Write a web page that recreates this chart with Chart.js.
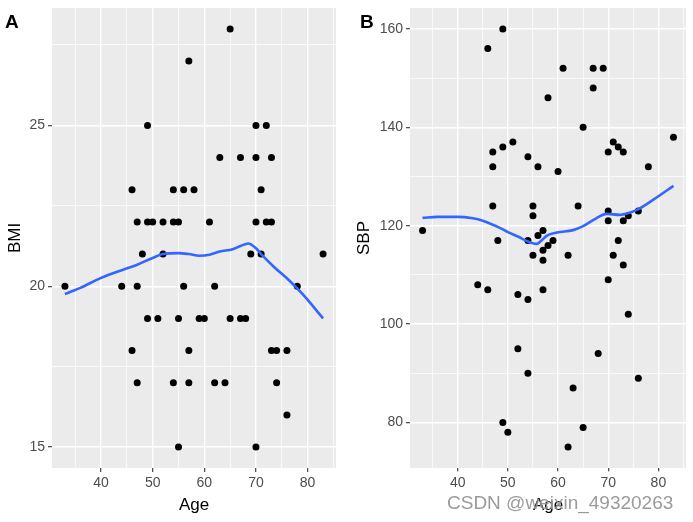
<!DOCTYPE html>
<html>
<head>
<meta charset="utf-8">
<script src="https://cdn.jsdelivr.net/npm/chart.js@4/dist/chart.umd.min.js"></script>
<style>
  html, body { margin: 0; padding: 0; background: #ffffff; }
  #wrap { position: relative; width: 693px; height: 522px; overflow: hidden; }
  canvas { position: absolute; top: 0; }
  .lab { position: absolute; font-family: 'Liberation Sans', Arial, sans-serif; font-weight: bold; font-size: 19px; color: #000; line-height: 1; }
  #wm { position: absolute; left: 447px; top: 492px; font-family: 'Liberation Sans', Arial, sans-serif; font-size: 19px; color: rgba(120,120,120,0.75); white-space: nowrap; text-shadow: 0 0 1px rgba(255,255,255,0.8); }
</style>
</head>
<body>
<div id="wrap">
  <canvas id="cA" width="346" height="522" style="left:0px;width:346px;height:522px"></canvas>
  <canvas id="cB" width="347" height="522" style="left:346px;width:347px;height:522px"></canvas>
  <div class="lab" style="left:5px;top:12px">A</div>
  <div class="lab" style="left:360px;top:12px">B</div>
  <div id="wm">CSDN @weixin_49320263</div>
</div>
<script>
// ---------- Data ----------
// Panel A: Age vs BMI
const ageA = [65, 57, 49, 70, 72, 63, 67, 70, 73, 46, 54, 56, 58, 71,
  47, 49, 50, 52, 54, 55, 61, 70, 72, 73,
  48, 52, 69, 71, 83,
  33, 44, 47, 56, 62, 78,
  49, 51, 55, 59, 60, 65, 67, 68,
  46, 57, 73, 74, 76,
  47, 54, 57, 62, 64, 74,
  76, 55, 70];
const bmi = [28, 27, 25, 25, 25, 24, 24, 24, 24, 23, 23, 23, 23, 23,
  22, 22, 22, 22, 22, 22, 22, 22, 22, 22,
  21, 21, 21, 21, 21,
  20, 20, 20, 20, 20, 20,
  19, 19, 19, 19, 19, 19, 19, 19,
  18, 18, 18, 18, 18,
  17, 17, 17, 17, 17, 17,
  16, 15, 15];
// LOESS smooth, panel A
const smoothAgeA = [33, 36, 40, 44, 47, 50, 52, 55, 57, 59, 61, 63, 65.5, 67, 68.5, 70, 71, 73.5, 76.5, 79, 83];
const smoothBMI  = [19.76, 19.95, 20.26, 20.5, 20.67, 20.88, 21.0, 21.03, 21.0, 20.95, 20.98, 21.08, 21.15, 21.25, 21.33, 21.18, 21.0, 20.6, 20.17, 19.76, 19.0];

// Panel B: Age vs SBP
const ageB = [49, 46, 61, 67, 69, 67, 58, 65, 83, 51, 71, 49, 72, 47, 70, 73, 54, 47, 56, 78,
  60, 47, 55, 64, 70, 76, 55, 74, 33, 57, 70, 73, 48, 54, 59, 72, 56, 58, 57, 55,
  62, 71, 57, 73, 70, 44, 46, 57, 52, 54, 74, 52, 68, 54, 76, 63, 49, 50, 65, 62];
const sbp = [160, 156, 152, 152, 152, 148, 146, 140, 138, 137, 137, 136, 136, 135, 135, 135, 134, 132, 132, 132,
  131, 124, 124, 124, 123, 123, 122, 122, 119, 119, 121, 121, 117, 117, 117, 117, 118, 116, 115, 114,
  114, 114, 113, 112, 109, 108, 107, 107, 106, 105, 102, 95, 94, 90, 89, 87, 80, 78, 79, 75];
// LOESS smooth, panel B
const smoothAgeB = [33, 36, 40, 43, 45, 48.5, 50, 52, 54, 55.7, 56.7, 57.8, 59.8, 63, 65, 67.6, 69.7, 72.3, 74.4, 75.7, 79, 83];
const smoothSBP  = [121.6, 121.8, 121.8, 121.5, 121.0, 119.5, 118.7, 117.8, 116.8, 116.3, 117.0, 118.0, 118.6, 119.1, 119.9, 121.5, 122.4, 122.2, 122.7, 123.2, 125.3, 128.1];

// Tick labels
const ageTicks = [40, 50, 60, 70, 80];
const bmiTicks = [15, 20, 25];
const sbpTicks = [80, 100, 120, 140, 160];

// ---------- Helpers ----------
const FONT = "'Liberation Sans', Arial, sans-serif";
function pad5(arr) {
  const mn = Math.min(...arr), mx = Math.max(...arr), r = mx - mn;
  return [mn - 0.05 * r, mx + 0.05 * r];
}
function withMinor(major) {
  const step = major[1] - major[0];
  const out = [];
  out.push(major[0] - step / 2);
  major.forEach(v => { out.push(v); out.push(v + step / 2); });
  return out;
}
const bgPlugin = {
  id: 'panelBg',
  beforeDraw(chart) {
    const { ctx, chartArea: a } = chart;
    ctx.save();
    ctx.fillStyle = '#EBEBEB';
    ctx.fillRect(a.left, a.top, a.right - a.left, a.bottom - a.top);
    ctx.restore();
  }
};

function makeChart(canvasId, xs, ys, sx, sy, yMajor, yTitle, yWidth, padRight, yTitlePad) {
  const [xmin, xmax] = pad5(xs);
  const [ymin, ymax] = pad5(ys);
  const xAll = withMinor(ageTicks);
  const yAll = withMinor(yMajor);
  const isMajorX = v => ageTicks.includes(v);
  const isMajorY = v => yMajor.includes(v);
  return new Chart(document.getElementById(canvasId), {
    type: 'scatter',
    data: {
      datasets: [
        {
          type: 'line',
          data: sx.map((x, i) => ({ x: x, y: sy[i] })),
          borderColor: '#3366FF',
          borderWidth: 2.6,
          pointRadius: 0,
          tension: 0.4,
          cubicInterpolationMode: 'monotone',
          fill: false,
          order: 0
        },
        {
          data: xs.map((x, i) => ({ x: x, y: ys[i] })),
          backgroundColor: '#000000',
          borderColor: '#000000',
          pointRadius: 3.5,
          pointBorderWidth: 0,
          order: 1
        }
      ]
    },
    options: {
      responsive: false,
      animation: false,
      events: [],
      layout: { padding: { left: 0, top: 8, right: padRight, bottom: 0 } },
      plugins: { legend: { display: false }, tooltip: { enabled: false } },
      scales: {
        x: {
          type: 'linear',
          min: xmin, max: xmax,
          afterBuildTicks: s => { s.ticks = xAll.map(v => ({ value: v })); },
          afterFit: s => { s.height = 54; s.paddingLeft = 0; s.paddingRight = 0; },
          border: { display: false },
          grid: {
            color: '#FFFFFF',
            lineWidth: c => isMajorX(c.tick.value) ? 1.4 : 0.7,
            tickColor: c => isMajorX(c.tick.value) ? '#333333' : 'rgba(0,0,0,0)',
            tickWidth: 1.1,
            tickLength: 4
          },
          ticks: {
            autoSkip: false,
            maxRotation: 0,
            padding: 3,
            color: '#4D4D4D',
            font: { family: FONT, size: 14 },
            callback: v => isMajorX(v) ? String(v) : ''
          },
          title: {
            display: true, text: 'Age', color: '#000000',
            font: { family: FONT, size: 17 },
            padding: { top: 0, bottom: 6 }
          }
        },
        y: {
          type: 'linear',
          min: ymin, max: ymax,
          afterBuildTicks: s => { s.ticks = yAll.map(v => ({ value: v })); },
          afterFit: s => { s.width = yWidth; s.paddingTop = 0; s.paddingBottom = 0; },
          border: { display: false },
          grid: {
            color: '#FFFFFF',
            lineWidth: c => isMajorY(c.tick.value) ? 1.4 : 0.7,
            tickColor: c => isMajorY(c.tick.value) ? '#333333' : 'rgba(0,0,0,0)',
            tickWidth: 1.1,
            tickLength: 4
          },
          ticks: {
            autoSkip: false,
            padding: 3,
            color: '#4D4D4D',
            font: { family: FONT, size: 14 },
            callback: v => isMajorY(v) ? String(v) : ''
          },
          title: {
            display: true, text: yTitle, color: '#000000',
            font: { family: FONT, size: 17 },
            padding: { top: yTitlePad, bottom: 0 }
          }
        }
      }
    },
    plugins: [bgPlugin]
  });
}

makeChart('cA', ageA, bmi, smoothAgeA, smoothBMI, bmiTicks, 'BMI', 52, 10, 5);
makeChart('cB', ageB, sbp, smoothAgeB, smoothSBP, sbpTicks, 'SBP', 64, 7, 8);
</script>
</body>
</html>
